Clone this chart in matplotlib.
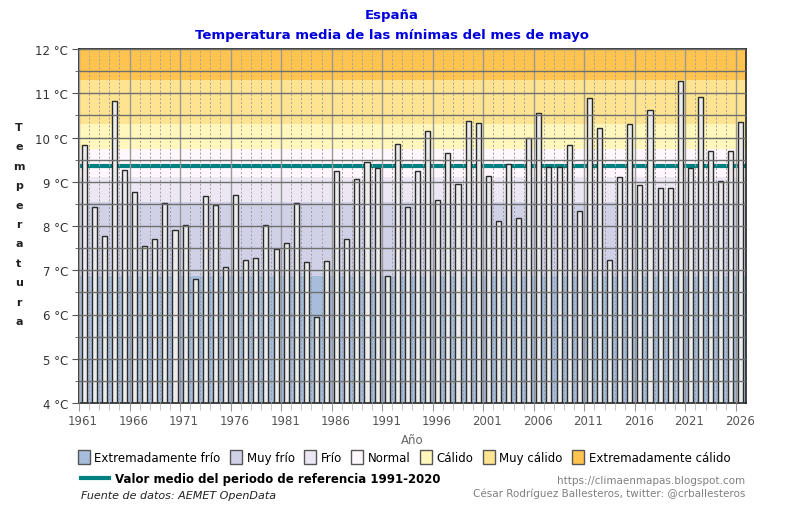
import matplotlib
matplotlib.use("Agg")
from matplotlib import pyplot as plt
from matplotlib.patches import Patch
from matplotlib.lines import Line2D
from matplotlib.ticker import MultipleLocator, FixedLocator
import matplotlib.transforms as mtransforms

years = list(range(1961, 2027))
tmin = [9.83, 8.44, 7.78, 10.83, 9.27, 8.76, 7.54, 7.71, 8.52, 7.91,
        8.03, 6.80, 8.67, 8.48, 7.08, 8.69, 7.24, 7.27, 8.03, 7.47,
        7.62, 8.53, 7.18, 5.94, 7.20, 9.25, 7.70, 9.06, 9.44, 9.31,
        6.87, 9.85, 8.42, 9.25, 10.14, 8.58, 9.64, 8.96, 10.38, 10.33,
        9.12, 8.12, 9.41, 8.18, 9.98, 10.55, 9.33, 9.34, 9.83, 8.33,
        10.89, 10.21, 7.24, 9.10, 10.30, 8.92, 10.62, 8.85, 8.86, 11.27,
        9.31, 10.91, 9.70, 9.02, 9.70, 10.34]
ref_mean = 9.35

band_edges = [4, 6.87, 8.54, 9.10, 9.73, 10.31, 11.30, 12]
band_names = ["Extremadamente frío", "Muy frío", "Frío", "Normal",
              "Cálido", "Muy cálido", "Extremadamente cálido"]
band_colors = ["#a6bddb", "#d0d1e6", "#ece7f2", "#fff7fb",
               "#fff7bc", "#fee391", "#fec44f"]
label_years = list(range(1961, 2027, 5))

W, H = 785, 506
fig = plt.figure(figsize=(W / 100, H / 100), dpi=100)
ax = fig.add_axes([79 / W, 1 - 404 / H, (746 - 79) / W, (404 - 50) / H])

for lo, hi, c in zip(band_edges[:-1], band_edges[1:], band_colors):
    ax.axhspan(lo, hi, color=c, zorder=0, lw=0)

ax.axhline(ref_mean, color="#008080", lw=3, zorder=1)
ax.bar(years, tmin, width=0.5, color="#ececec", edgecolor="#2a2a2a",
       linewidth=1, zorder=2)

ax.set_xlim(years[0] - 0.5, years[-1] + 0.5)
ax.set_ylim(4, 12)

# y axis
ax.yaxis.set_major_locator(MultipleLocator(1))
ax.yaxis.set_minor_locator(MultipleLocator(0.5))
ax.set_yticklabels([f"{int(v)} °C" for v in ax.get_yticks()])
ax.tick_params(axis="y", which="major", length=5, pad=3, labelsize=8.5,
               labelcolor="#333333", color="#555555")
ax.tick_params(axis="y", which="minor", length=3, color="#555555")

# x axis: ticks on category boundaries
ax.xaxis.set_major_locator(FixedLocator([y - 0.5 for y in label_years]))
ax.xaxis.set_minor_locator(FixedLocator([y - 0.5 for y in years]))
ax.set_xticklabels([str(y) for y in label_years])
ax.tick_params(axis="x", which="major", length=6, pad=2, labelsize=8.5,
               labelcolor="#555555", color="#999999")
ax.tick_params(axis="x", which="minor", length=5, color="#bbbbbb")
offset = mtransforms.ScaledTranslation(0.04, 0, fig.dpi_scale_trans)
for lab in ax.get_xticklabels():
    lab.set_transform(lab.get_transform() + offset)

ax.set_axisbelow(False)
ax.grid(axis="y", which="both", color="#6e6e6e", lw=1)
ax.grid(axis="x", which="major", color="#999999", lw=1)
ax.grid(axis="x", which="minor", color="#a0a0a0", lw=0.7, ls=(0, (2, 2)))

for s in ax.spines.values():
    s.set_color("#222222")
    s.set_linewidth(1.2)

ax.set_xlabel("Año", color="#666666", fontsize=8.5, labelpad=4)

# titles
fig.text(392 / W, 1 - 16 / H, "España", ha="center", va="center",
         color="#0000dd", fontsize=9.5, fontweight="bold")
fig.text(392 / W, 1 - 36 / H, "Temperatura media de las mínimas del mes de mayo",
         ha="center", va="center", color="#0000dd", fontsize=9.5,
         fontweight="bold")

# vertical y label, one letter per line
for i, ch in enumerate("Temperatura"):
    fig.text(19 / W, 1 - (128 + i * 19.4) / H, ch, ha="center", va="center",
             fontsize=8, fontweight="bold", color="#222222")

# legends
handles = [Patch(facecolor=c, edgecolor="#555555", lw=1) for c in band_colors]
fig.legend(handles, band_names, ncol=7, loc="center",
           bbox_to_anchor=(404 / W, 1 - 458 / H), frameon=False,
           fontsize=8.5, handlelength=1.0, handleheight=1.4,
           columnspacing=0.8, handletextpad=0.4, borderpad=0)
fig.legend([Line2D([], [], color="#008080", lw=3)],
           ["Valor medio del periodo de referencia 1991-2020"],
           loc="center left", bbox_to_anchor=(75 / W, 1 - 480 / H),
           frameon=False, handlelength=2.4, handletextpad=0.5, borderpad=0,
           prop={"weight": "bold", "size": 8.5})

fig.text(81 / W, 1 - 496 / H, "Fuente de datos: AEMET OpenData", ha="left",
         va="center", fontsize=8, style="italic", color="#222222")
fig.text(745 / W, 1 - 481 / H, "https://climaenmapas.blogspot.com", ha="right",
         va="center", fontsize=7.5, color="#808080")
fig.text(745 / W, 1 - 494 / H, "César Rodríguez Ballesteros, twitter: @crballesteros",
         ha="right", va="center", fontsize=7.5, color="#808080")

fig.savefig("out.png", dpi=100)
